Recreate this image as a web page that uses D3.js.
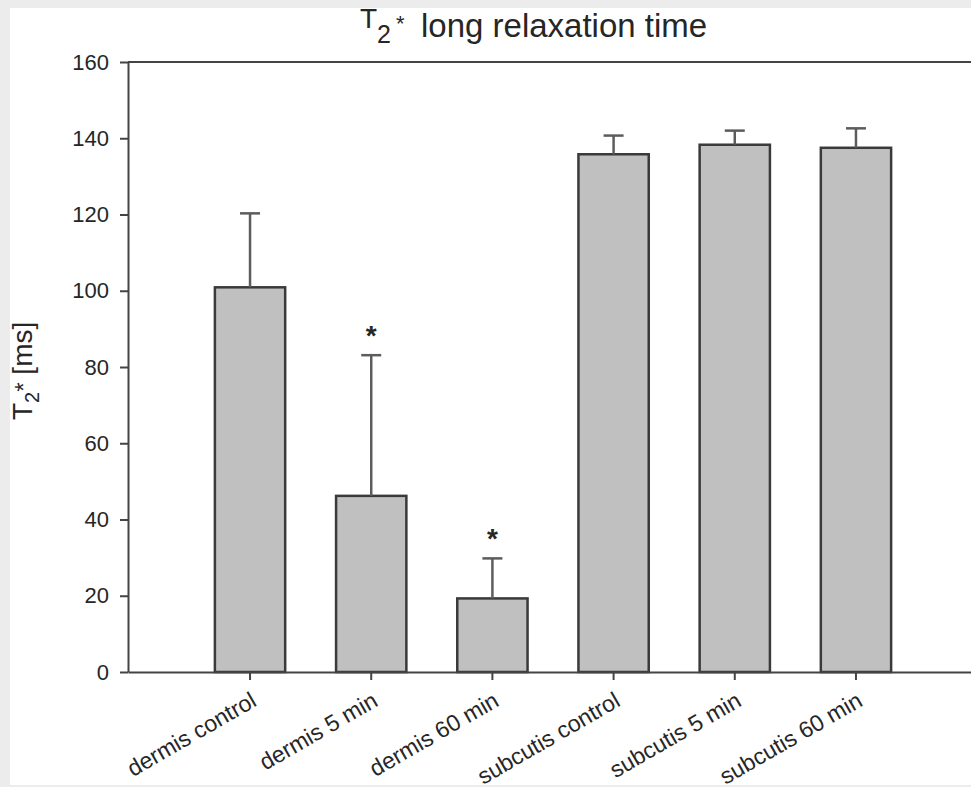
<!DOCTYPE html>
<html>
<head>
<meta charset="utf-8">
<script src="https://cdn.jsdelivr.net/npm/d3@7"></script>
<style>
  body { margin: 0; background: #fff; }
  text { font-family: "Liberation Sans", Arial, sans-serif; fill: #262626; }
</style>
</head>
<body>
<div class="container"></div>
<script>
// T2* long relaxation time, mean + SD

var categories = ['dermis control', 'dermis 5 min', 'dermis 60 min',
                  'subcutis control', 'subcutis 5 min', 'subcutis 60 min'];
var means = [100.9, 46.2, 19.3, 135.8, 138.3, 137.5];
var errTops = [120.3, 83.1, 29.8, 140.7, 142.0, 142.6];
var significant = [false, true, true, false, false, false];
var yTicks = [0, 20, 40, 60, 80, 100, 120, 140, 160];

var width = 971;
var height = 787;
var plotLeft = 128;
var plotTop = 62;
var plotBottom = 672;

var translate = function(x, y) {
    return 'translate(' + x + ',' + y + ')';
}

var draw = function() {
    var svg = d3.select('.container').append('svg')
        .attr('width', width)
        .attr('height', height);

    // grey frame of the screenshot
    svg.append('rect').attr('width', width).attr('height', height).attr('fill', '#ececec');
    svg.append('rect').attr('x', 10).attr('y', 8)
        .attr('width', width - 10).attr('height', 777).attr('fill', '#fff');

    var XScale = d3.scaleBand()
        .domain(categories)
        .range([plotLeft, 978])
        .paddingInner(0.42)
        .paddingOuter(0.717);

    var YScale = d3.scaleLinear()
        .domain([0, 160])
        .range([plotBottom, plotTop]);

    // bars
    svg.append('g').selectAll('rect')
        .data(categories)
        .enter().append('rect')
        .attr('x', function(d) { return XScale(d); })
        .attr('y', function(d, i) { return YScale(means[i]); })
        .attr('width', XScale.bandwidth())
        .attr('height', function(d, i) { return YScale(0) - YScale(means[i]); })
        .attr('fill', '#c0c0c0')
        .attr('stroke', '#3a3a3a')
        .attr('stroke-width', 2.5);

    // error bars (upper only)
    var err = svg.append('g').attr('stroke', '#5c5c5c').attr('stroke-width', 2.5);
    categories.forEach(function(d, i) {
        var cx = XScale(d) + XScale.bandwidth() / 2;
        err.append('line')
            .attr('x1', cx).attr('x2', cx)
            .attr('y1', YScale(means[i])).attr('y2', YScale(errTops[i]));
        err.append('line')
            .attr('x1', cx - 10).attr('x2', cx + 10)
            .attr('y1', YScale(errTops[i])).attr('y2', YScale(errTops[i]));
        if (significant[i]) {
            svg.append('text')
                .attr('x', cx).attr('y', YScale(errTops[i]) - 10)
                .attr('text-anchor', 'middle')
                .style('font-size', '28px')
                .style('font-weight', 'bold')
                .text('*');
        }
    });

    // axes
    var yAxis = d3.axisLeft(YScale).tickValues(yTicks).tickSize(8).tickSizeOuter(0).tickPadding(11);
    var yg = svg.append('g').attr('transform', translate(plotLeft, 0)).call(yAxis);
    yg.selectAll('text').style('font-size', '22px').attr('fill', '#262626');

    var xAxis = d3.axisBottom(XScale).tickSize(8).tickSizeOuter(0).tickFormat('');
    svg.append('g').attr('transform', translate(0, plotBottom)).call(xAxis);

    svg.selectAll('.domain, .tick line').attr('stroke', '#444').attr('stroke-width', 2);

    svg.append('line')
        .attr('x1', plotLeft).attr('x2', width)
        .attr('y1', YScale(160)).attr('y2', YScale(160))
        .attr('stroke', '#444').attr('stroke-width', 2);

    // rotated category labels
    svg.append('g').selectAll('text')
        .data(categories)
        .enter().append('text')
        .attr('transform', function(d) {
            return translate(XScale(d) + XScale.bandwidth() / 2 + 8, plotBottom + 33) + ' rotate(-30)';
        })
        .attr('text-anchor', 'end')
        .style('font-size', '23px')
        .text(function(d) { return d; });

    // title
    var title = svg.append('text');
    title.append('tspan').attr('x', 360).attr('y', 28).style('font-size', '28px').text('T');
    title.append('tspan').attr('x', 377).attr('y', 43).style('font-size', '25px').text('2');
    title.append('tspan').attr('x', 396).attr('y', 31).style('font-size', '22px').text('*');
    title.append('tspan').attr('x', 421).attr('y', 37).style('font-size', '33px').text('long relaxation time');

    // y label
    var ylab = svg.append('text')
        .attr('transform', translate(32, 420) + ' rotate(-90)');
    ylab.append('tspan').style('font-size', '28px').text('T');
    ylab.append('tspan').attr('dy', 7).style('font-size', '20px').text('2');
    ylab.append('tspan').attr('dy', -7).style('font-size', '24px').text('*');
    ylab.append('tspan').style('font-size', '28px').text(' [ms]');
}

window.onload = draw;
</script>
</body>
</html>
